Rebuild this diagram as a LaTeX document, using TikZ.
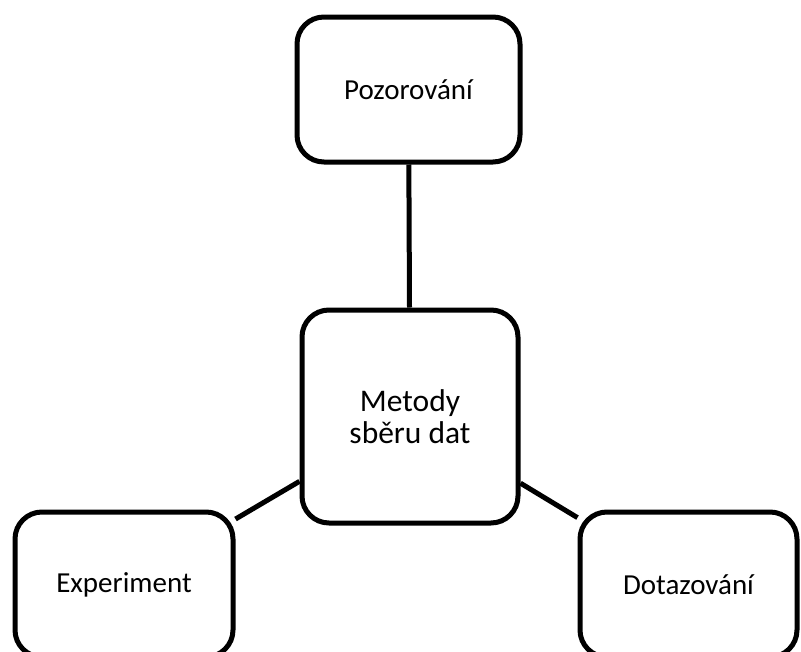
\documentclass[tikz,border=0pt]{standalone}
\usepackage{fontspec}
\setmainfont{Carlito}
\usepackage{tikz}
\usetikzlibrary{shapes}
\tikzset{box/.style={rectangle, draw, line width=5pt, rounded corners=27pt, align=center, font=\fontsize{29}{35}\selectfont},
         link/.style={line width=5pt}}
\newcommand{\mapbox}[4] {\node at (#1) (#2) [box, minimum width=#3, minimum height=145pt] {#4};}
\newcommand{\bigbox}[3] {\node at (#1) (#2) [box, minimum width=216pt, minimum height=213pt, font=\fontsize{31.5}{32.5}\selectfont] {#3};}
\newcommand{\maplink}[2] {\draw [link] (#1) -- (#2);}

\begin{document}
\begin{tikzpicture}[x=1pt, y=-1pt]
\useasboundingbox (0,0) rectangle (801,651);

\bigbox {410,416.5}{metody}{Metody\\sběru dat}
\mapbox {408.5,89.5}{pozor}{223pt}{Pozorování}
\mapbox {124,584.5}{exper}{218pt}{Experiment}
\mapbox {688.5,584.5}{dotaz}{217pt}{Dotazování}

\maplink {pozor}{metody}
\maplink {metody}{exper}
\maplink {metody}{dotaz}
\end{tikzpicture}
\end{document}
